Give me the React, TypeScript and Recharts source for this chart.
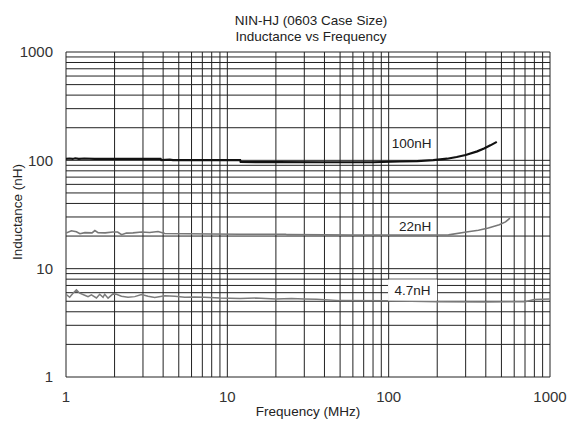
import React from "react";
import { LineChart, Line, XAxis, YAxis, CartesianGrid, ReferenceDot } from "recharts";

// ---- Data (frequency in MHz, inductance in nH) ----
const freq100 = [1, 1.05, 1.1, 1.14, 1.2, 1.3, 1.5, 2, 3, 3.86, 3.9, 4.4, 4.6, 6, 10, 12, 12.1, 20, 40, 80, 117, 150, 189, 230, 264, 300, 354, 390, 427, 468];
const ind100 = [103, 104, 103, 104.5, 103, 104, 103, 103, 103, 103, 100.6, 101.5, 100.6, 100.6, 100.6, 100.6, 96.5, 96.3, 96, 96, 97.5, 98.5, 100.5, 103.5, 107.4, 112, 121, 128.5, 137.5, 148];

const freq22 = [1, 1.08, 1.16, 1.22, 1.31, 1.45, 1.51, 1.58, 1.75, 1.95, 2.09, 2.21, 2.37, 2.6, 2.94, 3.3, 3.72, 4.1, 5.7, 8, 12, 23, 23.5, 40, 60, 100, 150, 235, 303, 360, 415, 485, 530, 565];
const ind22 = [21.3, 22.4, 21.9, 21.0, 21.5, 21.4, 22.5, 21.5, 21.4, 21.8, 21.8, 20.6, 21.3, 21.4, 21.8, 21.6, 22.0, 21.1, 21.0, 20.9, 20.8, 20.8, 20.6, 20.5, 20.4, 20.4, 20.4, 20.5, 21.8, 22.6, 23.7, 25.4, 27.0, 29.3];

const freq4p7 = [1, 1.054, 1.105, 1.16, 1.216, 1.306, 1.37, 1.437, 1.544, 1.618, 1.697, 1.738, 1.823, 1.957, 2.055, 2.206, 2.424, 2.668, 2.937, 3.226, 3.548, 4.1, 4.73, 5.45, 6.28, 7.23, 9, 12, 15, 20, 25, 30, 35.8, 50, 95, 200, 400, 700, 800, 1000];
const ind4p7 = [5.81, 5.45, 5.94, 6.37, 5.94, 5.69, 5.52, 5.73, 5.37, 5.81, 5.45, 5.81, 5.34, 5.85, 5.81, 5.57, 5.45, 5.52, 5.76, 5.57, 5.41, 5.61, 5.57, 5.45, 5.49, 5.45, 5.35, 5.3, 5.35, 5.25, 5.3, 5.26, 5.22, 5.07, 5.05, 4.95, 4.93, 4.95, 5.2, 5.25];

const axisTicks = [1, 10, 100, 1000];
const gridValues = [1, 2, 3, 4, 5, 6, 7, 8, 9, 10, 20, 30, 40, 50, 60, 70, 80, 90, 100, 200, 300, 400, 500, 600, 700, 800, 900, 1000];

const seriesLabels = ["100nH", "22nH", "4.7nH"];

const toRows = (fs: number[], vs: number[]) => fs.map((f, i) => ({ f, v: vs[i] }));
const data100 = toRows(freq100, ind100);
const data22 = toRows(freq22, ind22);
const data4p7 = toRows(freq4p7, ind4p7);

const FONT = "'Liberation Sans', Arial, Helvetica, sans-serif";

const makeLabel = (text: string, box: boolean) => (p: any) => (
  <g>
    {box && <rect x={p.cx - 24.5} y={p.cy - 10.5} width={49} height={21} fill="#fff" />}
    <text
      x={p.cx}
      y={p.cy}
      textAnchor="middle"
      dominantBaseline="central"
      fontSize={13.5}
      fontFamily={FONT}
      fill="#222"
    >
      {text}
    </text>
  </g>
);

export default function App() {
  return (
    <div style={{ position: "absolute", left: 0, top: 0, width: 567, height: 421, background: "#fff", fontFamily: FONT }}>
      <div style={{ position: "absolute", left: 211, width: 200, top: 13, textAlign: "center", fontSize: 13.5, lineHeight: "15.5px", color: "#222" }}>
        <div>NIN-HJ (0603 Case Size)</div>
        <div>Inductance vs Frequency</div>
      </div>
      <LineChart width={567} height={421} data={data100} margin={{ top: 52, right: 17, bottom: 14, left: 10 }}>
        <CartesianGrid
          stroke="#222"
          strokeWidth={1}
          horizontalValues={gridValues}
          verticalValues={gridValues}
        />
        <XAxis
          type="number"
          dataKey="f"
          scale="log"
          domain={[1, 1000]}
          ticks={axisTicks}
          interval={0}
          allowDataOverflow
          axisLine={false}
          tickLine={false}
          tickSize={12}
          tickMargin={2}
          height={30}
          tick={{ fontSize: 15, fill: "#333", fontFamily: FONT }}
        />
        <YAxis
          type="number"
          scale="log"
          domain={[1, 1000]}
          ticks={axisTicks}
          interval={0}
          allowDataOverflow
          axisLine={false}
          tickLine={false}
          tickSize={11}
          tickMargin={2}
          width={56}
          tick={{ fontSize: 15, fill: "#333", fontFamily: FONT }}
        />
        <Line data={data4p7} dataKey="v" type="linear" stroke="#7c7c7c" strokeWidth={1.5} dot={false} isAnimationActive={false} />
        <Line data={data22} dataKey="v" type="linear" stroke="#777" strokeWidth={1.6} dot={false} isAnimationActive={false} />
        <Line data={data100} dataKey="v" type="linear" stroke="#111" strokeWidth={2.2} dot={false} isAnimationActive={false} />
        <ReferenceDot x={139} y={142} r={0} shape={makeLabel(seriesLabels[0], false)} />
        <ReferenceDot x={146} y={24.5} r={0} shape={makeLabel(seriesLabels[1], false)} />
        <ReferenceDot x={140.6} y={6.35} r={0} shape={makeLabel(seriesLabels[2], true)} />
      </LineChart>
      <div style={{ position: "absolute", left: 208, width: 200, top: 404, textAlign: "center", fontSize: 13.5, color: "#222" }}>
        Frequency (MHz)
      </div>
      <div
        style={{
          position: "absolute",
          left: 18,
          top: 212,
          width: 160,
          marginLeft: -80,
          marginTop: -9,
          textAlign: "center",
          fontSize: 13.5,
          lineHeight: "18px",
          color: "#222",
          transform: "rotate(-90deg)",
        }}
      >
        Inductance (nH)
      </div>
    </div>
  );
}
